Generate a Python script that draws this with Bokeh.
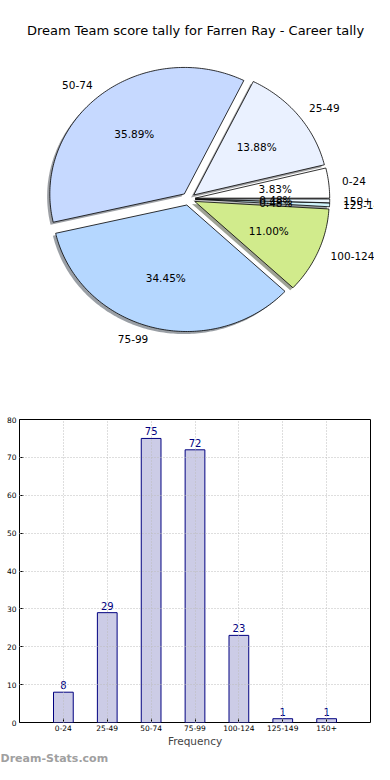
import numpy as np
from bokeh.plotting import figure
from bokeh.layouts import column
from bokeh.models import Range1d, FixedTicker, Label, ColumnDataSource, Title
from bokeh.core.properties import value
from bokeh.embed import file_html
from bokeh.resources import INLINE

# ---------------- data ----------------
title_text = "Dream Team score tally for Farren Ray - Career tally"
categories = ["0-24", "25-49", "50-74", "75-99", "100-124", "125-149", "150+"]
counts = [8, 29, 75, 72, 23, 1, 1]
pie_colors = ["#ffffff", "#eaf1ff", "#c6d9ff", "#b5d7ff", "#d1eb8c", "#cff3fa", "#eef8ff"]
y_ticks = [0, 10, 20, 30, 40, 50, 60, 70, 80]
x_axis_label = "Frequency"
watermark = "Dream-Stats.com"

FONT = "DejaVu Sans"
W = 374
H_PIE = 398
H_BAR = 366

# pie placement (pixels)
CX, CY, RX, RY = 188.0, 198.4, 134.5, 126.5

# ---------------- pie ----------------
total = float(sum(counts))
fracs = np.array(counts) / total
theta2 = np.cumsum(fracs) * 2 * np.pi
theta1 = theta2 - fracs * 2 * np.pi
tm = (theta1 + theta2) / 2
explode = 0.05
ox = explode * np.cos(tm)
oy = explode * np.sin(tm)


def wedge_poly(x0, y0, t1, t2):
    n = max(int(np.degrees(t2 - t1)) + 2, 4)
    t = np.linspace(t1, t2, n)
    xs = np.concatenate([[x0], x0 + np.cos(t), [x0]])
    ys = np.concatenate([[y0], y0 + np.sin(t), [y0]])
    return list(xs), list(ys)


def shade(hexcol):
    h = hexcol.lstrip("#")
    r, g, b = (int(h[i:i + 2], 16) for i in (0, 2, 4))
    return "#%02x%02x%02x" % (int(r * 0.3), int(g * 0.3), int(b * 0.3))


wx, wy, sx, sy = [], [], [], []
for i in range(len(counts)):
    a, b = wedge_poly(ox[i], oy[i], theta1[i], theta2[i])
    wx.append(a)
    wy.append(b)
    sx.append([v - 0.02 for v in a])
    sy.append([v - 0.02 for v in b])

pie = figure(width=W, height=H_PIE,
             x_range=Range1d(-CX / RX, (W - CX) / RX),
             y_range=Range1d(-(H_PIE - CY) / RY, CY / RY),
             x_axis_type=None, y_axis_type=None,
             output_backend="svg", toolbar_location=None, min_border=0)
pie.frame_align = False
pie.grid.visible = False
pie.outline_line_color = None
pie.background_fill_color = "white"
pie.border_fill_color = "white"

pie.patches(sx, sy, fill_color=[shade(c) for c in pie_colors], fill_alpha=0.5,
            line_color=None)
pie.patches(wx, wy, fill_color=pie_colors, line_color="black", line_width=0.8)

pct_src = ColumnDataSource(dict(
    x=list(ox + 0.6 * np.cos(tm)), y=list(oy + 0.6 * np.sin(tm)),
    t=["%.2f%%" % (100 * f) for f in fracs]))
pie.text("x", "y", "t", source=pct_src, text_align="center", text_baseline="middle",
         text_font=value(FONT), text_font_size="10.5px", text_color="black")

lx = ox + 1.1 * np.cos(tm)
ly = oy + 1.1 * np.sin(tm)
left_idx = [i for i in range(len(counts)) if lx[i] >= 0]
right_idx = [i for i in range(len(counts)) if lx[i] < 0]
pie.text([lx[i] for i in left_idx], [ly[i] for i in left_idx],
         [categories[i] for i in left_idx], text_align="left", text_baseline="middle",
         text_font=value(FONT), text_font_size="10.5px", text_color="black")
pie.text([lx[i] for i in right_idx], [ly[i] for i in right_idx],
         [categories[i] for i in right_idx], text_align="right", text_baseline="middle",
         text_font=value(FONT), text_font_size="10.5px", text_color="black")

pie.add_layout(Label(x=195, y=H_PIE - 30, x_units="screen", y_units="screen",
                     text=title_text, text_align="center", text_baseline="middle",
                     text_font=FONT, text_font_size="13px", text_color="black"))

# ---------------- bar ----------------
idx = list(range(len(categories)))
bar = figure(width=W, height=H_BAR, x_range=Range1d(-1, 7), y_range=Range1d(0, 80),
             output_backend="svg", toolbar_location=None,
             min_border_left=19, min_border_right=4, min_border_top=21, min_border_bottom=0)
bar.frame_align = False
bar.background_fill_color = "white"
bar.border_fill_color = "white"
bar.outline_line_color = "black"
bar.outline_line_width = 1
bar.outline_line_alpha = 1

bar.vbar(x=idx, top=counts, width=0.45, fill_color="#ccccE6", line_color="#000080",
         line_width=1)
bar.text(x=idx, y=counts, text=[str(c) for c in counts], text_align="center",
         text_baseline="bottom", y_offset=-3, text_color="#000080",
         text_font=value(FONT), text_font_size="10px")

bar.xaxis.ticker = FixedTicker(ticks=idx)
bar.xaxis.major_label_overrides = {i: c for i, c in zip(idx, categories)}
bar.yaxis.ticker = FixedTicker(ticks=y_ticks)
for ax in (bar.xaxis, bar.yaxis):
    ax.axis_line_color = None
    ax.major_tick_out = 0
    ax.major_tick_in = 4
    ax.major_tick_line_color = "black"
    ax.minor_tick_line_color = None
    ax.major_label_text_font = FONT
    ax.major_label_text_font_size = "7.5px"
    ax.major_label_text_color = "black"
    ax.major_label_standoff = 3
bar.xaxis.major_label_standoff = 2
bar.xaxis.axis_label = x_axis_label
bar.xaxis.axis_label_text_font = FONT
bar.xaxis.axis_label_text_font_size = "10.5px"
bar.xaxis.axis_label_text_font_style = "normal"
bar.xaxis.axis_label_standoff = 1

bar.xgrid.ticker = FixedTicker(ticks=idx)
bar.ygrid.ticker = FixedTicker(ticks=y_ticks)
for g in (bar.xgrid, bar.ygrid):
    g.grid_line_color = "#bdbdbd"
    g.grid_line_dash = "1 2"
    g.grid_line_width = 1
    g.level = "overlay"

bar.add_layout(Title(text=watermark, align="left", offset=-19, standoff=0,
                     text_font=FONT, text_font_size="11px", text_font_style="bold",
                     text_color="#a0a0a0"), "below")

layout = column(pie, bar, spacing=0)
open("out.html", "w").write(file_html(layout, INLINE))
